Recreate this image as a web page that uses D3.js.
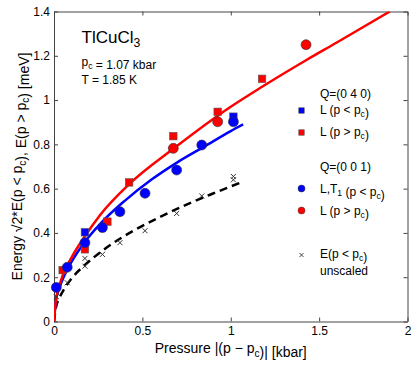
<!DOCTYPE html>
<html>
<head>
<meta charset="utf-8">
<script src="https://cdn.jsdelivr.net/npm/d3@7"></script>
<style>
  body { margin: 0; background: #fff; }
  svg { display: block; font-family: "Liberation Sans", Arial, sans-serif; }
</style>
</head>
<body>
<div id="chart"></div>
<script>
// Q=(0 0 1), L,T1 below pc (blue circles)
const blueCircles = [
  [0.013, 0.154], [0.075, 0.245], [0.175, 0.356], [0.274, 0.424], [0.373, 0.496],
  [0.515, 0.579], [0.694, 0.684], [0.836, 0.797], [1.015, 0.902]
];
// Q=(0 4 0), L below pc (blue squares)
const blueSquares = [[0.175, 0.403], [1.015, 0.925]];
// Q=(0 4 0), L above pc (red squares)
const redSquares = [
  [0.049, 0.232], [0.175, 0.326], [0.302, 0.451], [0.425, 0.628],
  [0.675, 0.837], [0.926, 0.947], [1.177, 1.096]
];
// Q=(0 0 1), L above pc (red circles)
const redCircles = [[0.675, 0.782], [0.926, 0.902], [1.426, 1.25]];
// unscaled E below pc (crosses)
const crosses = [
  [0.013, 0.112], [0.075, 0.175], [0.175, 0.285], [0.175, 0.25], [0.274, 0.303],
  [0.373, 0.356], [0.515, 0.41], [0.694, 0.488], [0.836, 0.567], [1.015, 0.655], [1.015, 0.64]
];
// fitted curves
const redFit = [
  [0, 0], [0.01, 0.09], [0.03, 0.16], [0.05, 0.21], [0.1, 0.29], [0.175, 0.385],
  [0.26, 0.48], [0.425, 0.62], [0.675, 0.78], [1.0, 0.97], [1.177, 1.06],
  [1.426, 1.18], [1.6, 1.26], [1.9, 1.4]
];
const blueFit = [
  [0, 0], [0.01, 0.09], [0.03, 0.15], [0.06, 0.21], [0.1, 0.27], [0.175, 0.36],
  [0.26, 0.44], [0.4, 0.545], [0.55, 0.64], [0.7, 0.72], [0.85, 0.79], [1.0, 0.86], [1.07, 0.89]
];
const blackFit = [
  [0, 0], [0.01, 0.06], [0.03, 0.105], [0.06, 0.15], [0.1, 0.195], [0.175, 0.255],
  [0.3, 0.335], [0.45, 0.41], [0.6, 0.472], [0.75, 0.528], [0.9, 0.578], [1.0, 0.61], [1.07, 0.631]
];
const xTicks = [0, 0.5, 1, 1.5, 2];
const yTicks = [0, 0.2, 0.4, 0.6, 0.8, 1, 1.2, 1.4];

const width = 415, height = 365;
const margin = {top: 11.5, right: 7.5, bottom: 43.5, left: 54};

const svg = d3.select("#chart").append("svg")
  .attr("width", width)
  .attr("height", height);

const x = d3.scaleLinear().domain([0, 2]).range([margin.left, width - margin.right]);
const y = d3.scaleLinear().domain([0, 1.4]).range([height - margin.bottom, margin.top]);

const blue = "#0000ff", red = "#ff0000";

svg.append("defs").append("clipPath").attr("id", "clip")
  .append("rect")
  .attr("x", x(0)).attr("y", y(1.4))
  .attr("width", x(2) - x(0)).attr("height", y(0) - y(1.4));

// axes, ticks pointing inward
const fmt = d => String(d);
svg.append("g").attr("transform", `translate(0,${y(0)})`)
  .call(d3.axisBottom(x).tickValues(xTicks).tickFormat(fmt).tickSize(-4).tickSizeOuter(0).tickPadding(5));
svg.append("g").attr("transform", `translate(0,${y(1.4)})`)
  .call(d3.axisTop(x).tickValues(xTicks).tickFormat("").tickSize(-4).tickSizeOuter(0));
svg.append("g").attr("transform", `translate(${x(0)},0)`)
  .call(d3.axisLeft(y).tickValues(yTicks).tickFormat(fmt).tickSize(-4).tickSizeOuter(0).tickPadding(4));
svg.append("g").attr("transform", `translate(${x(2)},0)`)
  .call(d3.axisRight(y).tickValues(yTicks).tickFormat("").tickSize(-4).tickSizeOuter(0));

svg.selectAll(".domain").attr("stroke", "#444");
svg.selectAll(".tick line").attr("stroke", "#444");
svg.selectAll(".tick text").attr("font-size", 12).attr("fill", "#000")
  .attr("font-family", "'Liberation Sans', Arial, sans-serif");

// fit curves
const line = d3.line().x(d => x(d[0])).y(d => y(d[1])).curve(d3.curveMonotoneX);
const curves = svg.append("g").attr("clip-path", "url(#clip)");
curves.append("path").datum(blackFit).attr("d", line)
  .attr("fill", "none").attr("stroke", "#000").attr("stroke-width", 2.5)
  .attr("stroke-dasharray", "8,5");
curves.append("path").datum(blueFit).attr("d", line)
  .attr("fill", "none").attr("stroke", blue).attr("stroke-width", 2.5);
curves.append("path").datum(redFit).attr("d", line)
  .attr("fill", "none").attr("stroke", red).attr("stroke-width", 2.5);

// markers
const sq = 7.5, r = 5;
function squares(data, color) {
  svg.append("g").selectAll("rect").data(data).join("rect")
    .attr("x", d => x(d[0]) - sq / 2).attr("y", d => y(d[1]) - sq / 2)
    .attr("width", sq).attr("height", sq)
    .attr("fill", color).attr("stroke", "#555").attr("stroke-width", 0.6);
}
function circles(data, color) {
  svg.append("g").selectAll("circle").data(data).join("circle")
    .attr("cx", d => x(d[0])).attr("cy", d => y(d[1])).attr("r", r)
    .attr("fill", color).attr("stroke", "#333").attr("stroke-width", 0.6);
}
const crossPath = "M-2.5,-2.5L2.5,2.5M-2.5,2.5L2.5,-2.5";
svg.append("g").selectAll("path").data(crosses).join("path")
  .attr("transform", d => `translate(${x(d[0])},${y(d[1])})`)
  .attr("d", crossPath).attr("stroke", "#333").attr("stroke-width", 1).attr("fill", "none");
squares(blueSquares, blue);
squares(redSquares, red);
circles(blueCircles, blue);
circles(redCircles, red);

// text with subscripts
function label(xp, yp, size, parts) {
  const t = svg.append("text").attr("x", xp).attr("y", yp).attr("font-size", size).attr("fill", "#000");
  parts.forEach(p => {
    if (typeof p === "string") t.append("tspan").text(p);
    else {
      t.append("tspan").attr("font-size", size * 0.72).attr("dy", size * 0.25).text(p.sub);
      t.append("tspan").attr("dy", -size * 0.25).text("");
    }
  });
  return t;
}

label(81.5, 43, 17, ["TlCuCl", {sub: "3"}]);
label(81.5, 65.5, 12, ["p", {sub: "c"}, " = 1.07 kbar"]);
label(81.5, 83.5, 12, ["T = 1.85 K"]);

// legend
const lx = 320, mx = 301.5;
label(lx, 98, 12, ["Q=(0 4 0)"]);
label(lx, 114, 12, ["L (p < p", {sub: "c"}, ")"]);
label(lx, 136, 12, ["L (p > p", {sub: "c"}, ")"]);
label(lx, 171, 12, ["Q=(0 0 1)"]);
label(lx, 193, 12, ["L,T", {sub: "1"}, " (p < p", {sub: "c"}, ")"]);
label(lx, 214.5, 12, ["L (p > p", {sub: "c"}, ")"]);
label(lx, 258, 12, ["E(p < p", {sub: "c"}, ")"]);
label(lx, 274.5, 12, ["unscaled"]);

const lsq = 5.5;
svg.append("rect").attr("x", mx - lsq / 2).attr("y", 110.5 - lsq / 2).attr("width", lsq).attr("height", lsq)
  .attr("fill", blue).attr("stroke", "#555").attr("stroke-width", 0.5);
svg.append("rect").attr("x", mx - lsq / 2).attr("y", 132.5 - lsq / 2).attr("width", lsq).attr("height", lsq)
  .attr("fill", red).attr("stroke", "#555").attr("stroke-width", 0.5);
svg.append("circle").attr("cx", mx).attr("cy", 188.5).attr("r", 3.5)
  .attr("fill", blue).attr("stroke", "#333").attr("stroke-width", 0.5);
svg.append("circle").attr("cx", mx).attr("cy", 210.5).attr("r", 3.5)
  .attr("fill", red).attr("stroke", "#333").attr("stroke-width", 0.5);
svg.append("path").attr("transform", `translate(${mx},255)`)
  .attr("d", "M-2,-2L2,2M-2,2L2,-2").attr("stroke", "#333").attr("stroke-width", 0.9);

// axis titles
label(x(1), 353, 14, ["Pressure |(p \u2212 p", {sub: "c"}, ")| [kbar]"]).attr("text-anchor", "middle");
label(0, 0, 14, ["Energy \u221A2*E(p < p", {sub: "c"}, "), E(p > p", {sub: "c"}, ") [meV]"])
  .attr("text-anchor", "middle")
  .attr("transform", `translate(22,${(y(0) + y(1.4)) / 2}) rotate(-90)`);
</script>
</body>
</html>
